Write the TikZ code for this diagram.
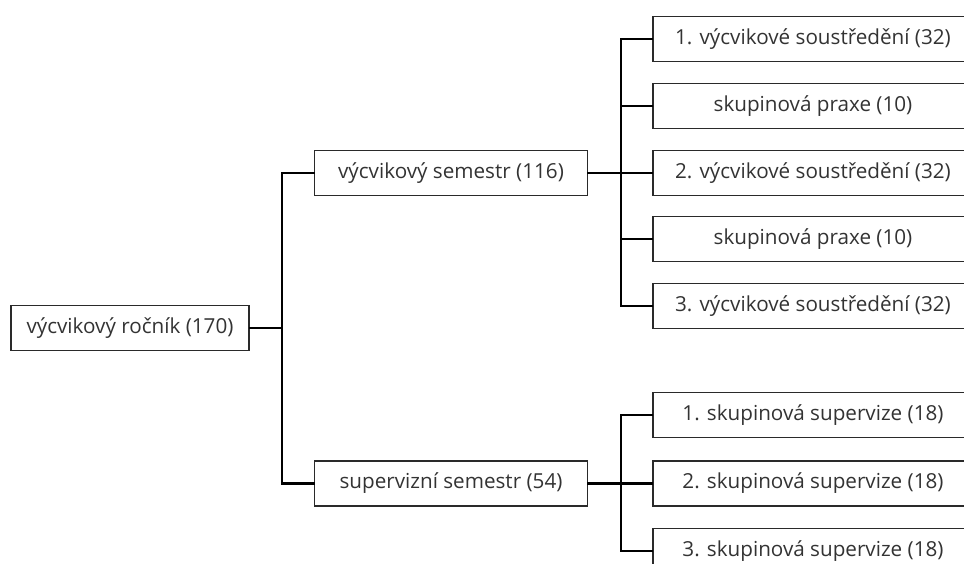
\documentclass[tikz,border=0pt]{standalone}
\usepackage{fontspec}
\setmainfont{Open Sans}
\usetikzlibrary{positioning}
\definecolor{txt}{HTML}{333333}
\definecolor{frame}{HTML}{2A2A2A}
\tikzset{
  box/.style={draw=frame, line width=1.1pt, rectangle, inner sep=0pt, text=txt,
    font=\fontsize{15.5}{18}\selectfont, minimum height=33.75pt},
  rootbox/.style={box, minimum width=178.5pt},
  midbox/.style={box, minimum width=205pt},
  leafbox/.style={box, minimum width=240pt},
  conn/.style={draw=black, line width=1.8pt, line cap=rect}
}
\begin{document}
\begin{tikzpicture}[x=0.75pt, y=-0.75pt]
\useasboundingbox (0,0) rectangle (964,564);
\clip (0,0) rectangle (964,564);
% nodes
\node[rootbox] (root) at (130,328) {výcvikový ročník (170)};
\node[midbox] (m1) at (451,173) {výcvikový semestr (116)};
\node[midbox] (m2) at (451,483.5) {supervizní semestr (54)};
\node[leafbox] (a1) at (813,39) {1. výcvikové soustředění (32)};
\node[leafbox] (a2) at (813,106) {skupinová praxe (10)};
\node[leafbox] (a3) at (813,173) {2. výcvikové soustředění (32)};
\node[leafbox] (a4) at (813,239) {skupinová praxe (10)};
\node[leafbox] (a5) at (813,306) {3. výcvikové soustředění (32)};
\node[leafbox] (b1) at (813,415) {1. skupinová supervize (18)};
\node[leafbox] (b2) at (813,483.5) {2. skupinová supervize (18)};
\node[leafbox] (b3) at (813,551) {3. skupinová supervize (18)};
% junctions
\coordinate (j0) at (282,328);
\coordinate (j1) at (621,173);
\coordinate (j2) at (621,483.5);
% connectors
\draw[conn] (root.east) -- (j0);
\draw[conn] (j0) |- (m1.west);
\draw[conn] (j0) |- (m2.west);
\draw[conn] (m1.east) -- (j1);
\foreach \n in {a1,a2,a3,a4,a5} \draw[conn] (j1) |- (\n.west);
\draw[conn] (m2.east) -- (j2);
\foreach \n in {b1,b2,b3} \draw[conn] (j2) |- (\n.west);
\end{tikzpicture}
\end{document}
